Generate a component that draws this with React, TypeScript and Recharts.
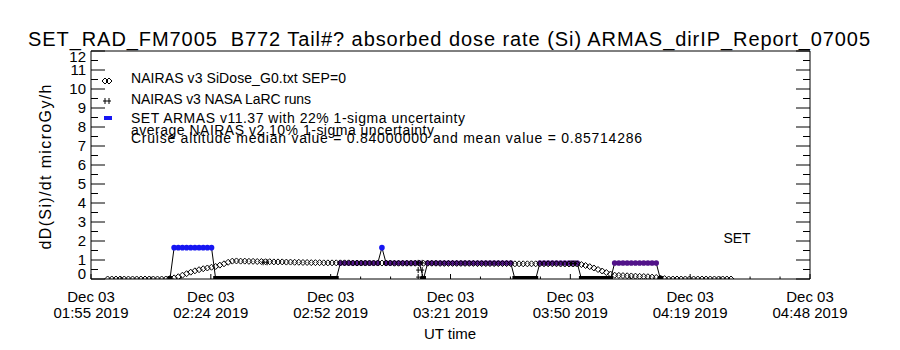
import React from 'react'
import { ComposedChart, Line, Scatter, XAxis, YAxis } from 'recharts'

const FONT = "'Liberation Sans', Arial, sans-serif"
const BLUE = '#1616f2'
const PURPLE = '#521389'

const TITLE = 'SET_RAD_FM7005  B772 Tail#? absorbed dose rate (Si) ARMAS_dirIP_Report_07005'
const Y_LABEL = 'dD(Si)/dt microGy/h'
const X_LABEL = 'UT time'

// x axis is minutes after 01:55 UT
const TICK_DATE = 'Dec 03'
const TICK_TIMES = ['01:55', '02:24', '02:52', '03:21', '03:50', '04:19', '04:48']
const TICK_YEAR = '2019'
const X_SPAN = 173
const MINOR = 4
const X_TICKS = Array.from({ length: (TICK_TIMES.length - 1) * MINOR + 1 }, (_, i) => (i * X_SPAN) / ((TICK_TIMES.length - 1) * MINOR))
const Y_TICKS = [0, 0.5, 1, 1.5, 2, 2.5, 3, 3.5, 4, 4.5, 5, 5.5, 6, 6.5, 7, 7.5, 8, 8.5, 9, 9.5, 10, 10.5, 11, 11.5, 12]

// NAIRAS v3 SiDose_G0, one value per minute starting at minute 4
const NAIRAS_START = 4
const NAIRAS_V = [
  0, 0, 0, 0, 0, 0, 0, 0, 0, 0, 0, 0, 0, 0, 0,
  0.02, 0.06, 0.12, 0.2, 0.28, 0.36, 0.43, 0.49, 0.54, 0.58, 0.62, 0.66, 0.73, 0.8, 0.88, 0.94,
  0.95, 0.94, 0.94, 0.93, 0.93, 0.92, 0.92, 0.91, 0.91, 0.9, 0.9, 0.9, 0.89, 0.89, 0.88, 0.88,
  0.87, 0.87, 0.86, 0.86, 0.86, 0.85, 0.85, 0.85, 0.85,
  0.85, 0.85, 0.85, 0.84, 0.84, 0.84, 0.84, 0.84, 0.84, 0.84, 0.84, 0.84, 0.84,
  0.83, 0.83, 0.83, 0.83, 0.83, 0.83, 0.83, 0.83,
  0.83, 0.83, 0.83, 0.82, 0.82, 0.82, 0.82, 0.82, 0.82, 0.82, 0.82, 0.82, 0.81, 0.81, 0.81,
  0.81, 0.81, 0.81, 0.81, 0.81, 0.81,
  0.8, 0.8, 0.8, 0.8, 0.8, 0.8,
  0.8, 0.8, 0.8, 0.8, 0.8, 0.79, 0.79, 0.79, 0.79, 0.79,
  0.76, 0.71, 0.65, 0.58, 0.5, 0.42, 0.34, 0.26, 0.2,
  0.19, 0.18, 0.17, 0.16, 0.15, 0.14, 0.13, 0.12, 0.1, 0.08, 0.05, 0.02,
  0, 0, 0, 0, 0, 0, 0, 0, 0, 0, 0, 0, 0, 0, 0, 0,
]

// SET ARMAS v11.37, one value per minute starting at minute 19
const ARMAS_START = 19
const ARMAS_V = [
  0,
  1.65, 1.65, 1.65, 1.65, 1.65, 1.65, 1.65, 1.65, 1.65, 1.65,
  0, 0, 0, 0, 0, 0, 0, 0, 0, 0, 0, 0, 0, 0, 0, 0, 0, 0, 0, 0, 0, 0, 0, 0, 0, 0, 0, 0, 0, 0,
  0.84, 0.84, 0.84, 0.84, 0.84, 0.84, 0.84, 0.84, 0.84, 0.84,
  1.65,
  0.84, 0.84, 0.84, 0.84, 0.84, 0.84, 0.84, 0.84, 0.84,
  0,
  0.84, 0.84, 0.84, 0.84, 0.84, 0.84, 0.84, 0.84, 0.84, 0.84, 0.84,
  0.84, 0.84, 0.84, 0.84, 0.84, 0.84, 0.84, 0.84, 0.84, 0.84,
  0, 0, 0, 0, 0, 0,
  0.84, 0.84, 0.84, 0.84, 0.84, 0.84, 0.84, 0.84, 0.84, 0.84,
  0, 0, 0, 0, 0, 0, 0, 0,
  0.84, 0.84, 0.84, 0.84, 0.84, 0.84, 0.84, 0.84, 0.84, 0.84, 0.84,
  0,
]

// NAIRAS v3 NASA LaRC runs
const LARC_T = [41.9, 79.2, 79.2, 79.2, 116]
const LARC_V = [0.88, 0.85, 0.47, 0.1, 0.82]

const NOTES = [
  'average NAIRAS v2 10% 1-sigma uncertainty',
  'Cruise altitude median value = 0.84000000 and mean value = 0.85714286',
]

const nairas = NAIRAS_V.map((v, i) => ({ t: NAIRAS_START + i, v }))
const armas = ARMAS_V.map((v, i) => ({ t: ARMAS_START + i, v }))
const larc = LARC_T.map((t, i) => ({ t, v: LARC_V[i] }))

const armasColor = (v: number) => (v > 1.2 ? BLUE : v > 0.3 ? PURPLE : '#000')

function diamond(cx: number, cy: number) {
  return `${cx},${cy - 3} ${cx + 3},${cy} ${cx},${cy + 3} ${cx - 3},${cy}`
}

function DoublePlus({ cx, cy }: { cx: number; cy: number }) {
  return (
    <g stroke="#000" strokeWidth={1}>
      <line x1={cx - 4} x2={cx + 4} y1={cy} y2={cy} />
      <line x1={cx - 2} x2={cx - 2} y1={cy - 3} y2={cy + 3} />
      <line x1={cx + 2} x2={cx + 2} y1={cy - 3} y2={cy + 3} />
    </g>
  )
}

const nairasDot = (p: any) => (
  <polygon key={`n${p.index}`} points={diamond(p.cx, p.cy)} fill="none" stroke="#000" strokeWidth={1} />
)

// zero readings sit on the axis, only their upper half shows
const armasDot = (p: any) => {
  const v = p.payload.v
  if (v > 0.3) return <circle key={`a${p.index}`} cx={p.cx} cy={p.cy} r={2.8} fill={armasColor(v)} />
  return <rect key={`a${p.index}`} x={p.cx - 2.5} y={p.cy - 3} width={5} height={6} fill="#000" />
}

const larcShape = (p: any) => <DoublePlus cx={p.cx} cy={p.cy} />

function majorIndex(value: number) {
  const k = Math.round((value / X_SPAN) * (TICK_TIMES.length - 1) * MINOR)
  return k % MINOR === 0 ? k / MINOR : -1
}

const BottomTick = (p: any) => {
  const m = majorIndex(p.payload.value)
  return (
    <g>
      <line x1={p.x} x2={p.x} y1={p.y} y2={p.y - (m >= 0 ? 5 : 2.5)} stroke="#000" />
      {m >= 0 && (
        <text textAnchor="middle" fontFamily={FONT} fontSize={15} fill="#000">
          <tspan x={p.x} y={p.y + 23}>{TICK_DATE}</tspan>
          <tspan x={p.x} y={p.y + 39}>{`${TICK_TIMES[m]} ${TICK_YEAR}`}</tspan>
        </text>
      )}
    </g>
  )
}

const TopTick = (p: any) => {
  const m = majorIndex(p.payload.value)
  return <line x1={p.x} x2={p.x} y1={p.y} y2={p.y + (m >= 0 ? 5 : 2.5)} stroke="#000" />
}

const LeftTick = (p: any) => {
  const v = p.payload.value
  const major = Number.isInteger(v)
  // IDL pulls the end labels inside the box
  const shift = v === 12 ? 6 : v === 0 ? -5 : 0
  return (
    <g>
      <line x1={p.x} x2={p.x + (major ? 14 : 7)} y1={p.y} y2={p.y} stroke="#000" />
      {major && (
        <text x={p.x - 5} y={p.y + 5 + shift} textAnchor="end" fontFamily={FONT} fontSize={15} fill="#000">
          {v}
        </text>
      )}
    </g>
  )
}

const RightTick = (p: any) => {
  const major = Number.isInteger(p.payload.value)
  return <line x1={p.x} x2={p.x - (major ? 14 : 7)} y1={p.y} y2={p.y} stroke="#000" />
}

function LegendBlock() {
  return (
    <g fontFamily={FONT} fontSize={14} fill="#000">
      <polygon points={diamond(105, 81)} fill="none" stroke="#000" />
      <polygon points={diamond(109, 81)} fill="none" stroke="#000" />
      <text x={131} y={83} textLength={215}>NAIRAS v3 SiDose_G0.txt SEP=0</text>
      <DoublePlus cx={107} cy={101} />
      <text x={131} y={104} textLength={180}>NAIRAS v3 NASA LaRC runs</text>
      <rect x={104} y={116} width={8} height={4} fill={BLUE} />
      <text x={131} y={123} textLength={334}>SET ARMAS v11.37 with 22% 1-sigma uncertainty</text>
      <text x={131} y={135} textLength={303}>{NOTES[0]}</text>
      <text x={131} y={143} textLength={511}>{NOTES[1]}</text>
    </g>
  )
}

export default function App() {
  return (
    <div style={{ position: 'absolute', left: 0, top: 0, width: 900, height: 350, background: '#fff' }}>
      <ComposedChart width={900} height={350} margin={{ top: 41, right: 80, bottom: 11, left: 31 }}>
        <XAxis
          dataKey="t"
          type="number"
          domain={[0, X_SPAN]}
          allowDataOverflow
          ticks={X_TICKS}
          interval={0}
          tickSize={0}
          tickMargin={0}
          tickLine={false}
          tick={BottomTick}
          axisLine={{ stroke: '#000' }}
          height={60}
        />
        <XAxis
          xAxisId="top"
          orientation="top"
          type="number"
          domain={[0, X_SPAN]}
          allowDataOverflow
          ticks={X_TICKS}
          interval={0}
          tickSize={0}
          tickMargin={0}
          tickLine={false}
          tick={TopTick}
          axisLine={{ stroke: '#000' }}
          height={10}
        />
        <YAxis
          type="number"
          domain={[0, 12]}
          allowDataOverflow
          ticks={Y_TICKS}
          interval={0}
          tickSize={0}
          tickMargin={0}
          tickLine={false}
          tick={LeftTick}
          axisLine={{ stroke: '#000' }}
          width={60}
        />
        <YAxis
          yAxisId="right"
          orientation="right"
          type="number"
          domain={[0, 12]}
          allowDataOverflow
          ticks={Y_TICKS}
          interval={0}
          tickSize={0}
          tickMargin={0}
          tickLine={false}
          tick={RightTick}
          axisLine={{ stroke: '#000' }}
          width={10}
        />
        <Line
          data={armas}
          dataKey="v"
          type="linear"
          stroke="#000"
          strokeWidth={1}
          dot={armasDot}
          activeDot={false}
          isAnimationActive={false}
        />
        <Scatter data={larc} dataKey="v" shape={larcShape} isAnimationActive={false} />
        <Line
          data={nairas}
          dataKey="v"
          type="linear"
          stroke="none"
          dot={nairasDot}
          activeDot={false}
          isAnimationActive={false}
        />
        <text
          x={449}
          y={46}
          textAnchor="middle"
          textLength={842}
          fontFamily={FONT}
          fontSize={20}
          fill="#000"
          style={{ whiteSpace: 'pre' }}
        >
          {TITLE}
        </text>
        <text
          x={45}
          y={167}
          transform="rotate(-90, 45, 167)"
          textAnchor="middle"
          dominantBaseline="central"
          textLength={165}
          fontFamily={FONT}
          fontSize={16}
          fill="#000"
        >
          {Y_LABEL}
        </text>
        <text x={450} y={339} textAnchor="middle" fontFamily={FONT} fontSize={15} fill="#000">
          {X_LABEL}
        </text>
        <text x={737} y={243} textAnchor="middle" fontFamily={FONT} fontSize={14} fill="#000">
          SET
        </text>
        <LegendBlock />
      </ComposedChart>
    </div>
  )
}
